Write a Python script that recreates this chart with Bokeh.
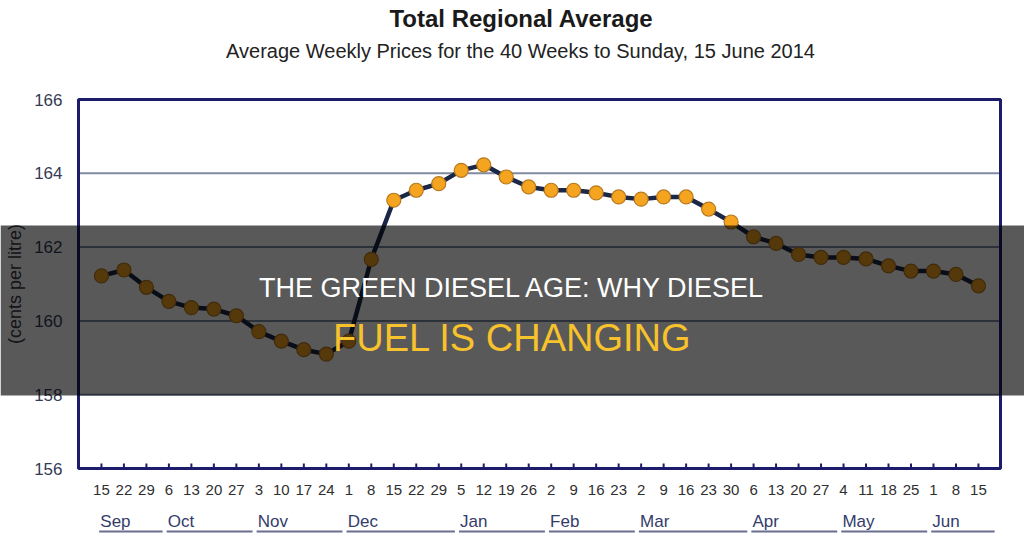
import math
from bokeh.plotting import figure
from bokeh.models import Range1d, ColumnDataSource
from bokeh.core.properties import value
from bokeh.embed import file_html
from bokeh.resources import INLINE

# ---------------- data ----------------
day_labels = ["15", "22", "29", "6", "13", "20", "27", "3", "10", "17", "24",
              "1", "8", "15", "22", "29", "5", "12", "19", "26", "2", "9", "16",
              "23", "2", "9", "16", "23", "30", "6", "13", "20", "27", "4", "11",
              "18", "25", "1", "8", "15"]
prices = [161.22, 161.38, 160.91, 160.53, 160.36, 160.32, 160.14, 159.71, 159.45, 159.22,
          159.10, 159.45, 161.67, 163.27, 163.54, 163.72, 164.08, 164.23, 163.90, 163.63,
          163.54, 163.54, 163.47, 163.36, 163.30, 163.36, 163.36, 163.03, 162.68, 162.28,
          162.10, 161.80, 161.72, 161.72, 161.68, 161.49, 161.35, 161.35, 161.26, 160.95]
months = ["Sep", "Oct", "Nov", "Dec", "Jan", "Feb", "Mar", "Apr", "May", "Jun"]
month_weeks = [3, 4, 4, 5, 4, 4, 5, 4, 4, 3]
y_ticks = [156, 158, 160, 162, 164, 166]
grid_ticks = [158, 160, 162, 164]

title_text = "Total Regional Average"
subtitle_text = "Average Weekly Prices for the 40 Weeks to Sunday, 15 June 2014"
y_label = "(cents per litre)"
overlay_line1 = "THE GREEN DIESEL AGE: WHY DIESEL"
overlay_line2 = "FUEL IS CHANGING"

# ---------------- layout ----------------
W, H = 1024, 540
FONT = value("Liberation Sans")
NAVY = "#1c1c6a"
Y0, Y1 = y_ticks[0], y_ticks[-1]
XL, XR = -1.02, len(prices) - 1 + 0.98          # plot-area extent in data units
AREA_L, AREA_R, AREA_T, AREA_B = 78, 1000, 99, 468  # plot-area box in pixels
PX_X = (AREA_R - AREA_L) / (XR - XL)
PX_Y = (AREA_B - AREA_T) / (Y1 - Y0)


def cx(px):  # canvas x pixel -> data x
    return XL - (AREA_L - px) / PX_X


def cy(py):  # canvas y pixel -> data y
    return Y1 + (AREA_T - py) / PX_Y


x = list(range(len(prices)))

p = figure(width=W, height=H,
           x_range=Range1d(cx(0), cx(W)), y_range=Range1d(cy(H), cy(0)),
           x_axis_type=None, y_axis_type=None,
           output_backend="svg", toolbar_location=None,
           min_border=0)
p.outline_line_color = None
p.background_fill_color = "white"
p.border_fill_color = "white"

# grid lines
p.segment(x0=[XL] * len(grid_ticks), x1=[XR] * len(grid_ticks), y0=grid_ticks, y1=grid_ticks,
          line_color="#7f8aa0", line_width=2)
# plot frame
p.quad(left=[XL], right=[XR], bottom=[Y0], top=[Y1], fill_color=None,
       line_color=NAVY, line_width=3)
# x tick marks (inside)
p.segment(x0=x, x1=x, y0=[Y0] * len(x), y1=[Y0 + 5 / PX_Y] * len(x),
          line_color=NAVY, line_width=2)

# data
p.line(x, prices, line_color="#1b2747", line_width=4.5)
p.scatter(x, prices, size=14, fill_color="#f4a41e", line_color="#b7791f", line_width=1.2)

# y tick labels
p.text(x=[XL - 16 / PX_X] * len(y_ticks), y=y_ticks, text=[str(t) for t in y_ticks],
       text_align="right", text_baseline="middle", text_font=FONT,
       text_font_size="17px", text_color="#353a55")
# y axis title
p.text(x=[cx(14)], y=[(Y0 + Y1) / 2], text=[y_label], angle=math.pi / 2,
       text_align="center", text_baseline="middle", text_font=FONT,
       text_font_size="18px", text_color="#3a3a4a")
# day labels
p.text(x=x, y=[Y0 - 21 / PX_Y] * len(x), text=day_labels,
       text_align="center", text_baseline="middle", text_font=FONT,
       text_font_size="15px", text_color="#2f2f2f")

# month labels and underlines
starts, ends = [], []
i = 0
for n in month_weeks:
    starts.append(i)
    ends.append(i + n - 1)
    i += n
msrc = ColumnDataSource(dict(
    name=months,
    lx=[s - 0.05 for s in starts],
    x0=[s - 0.1 for s in starts],
    x1=[e + 0.72 for e in ends],
    ly=[Y0 - 53 / PX_Y] * len(months),
    uy=[Y0 - 63 / PX_Y] * len(months),
))
p.text(x="lx", y="ly", text="name", source=msrc, text_align="left", text_baseline="middle",
       text_font=FONT, text_font_size="17px", text_color="#343c6a")
p.segment(x0="x0", x1="x1", y0="uy", y1="uy", source=msrc, line_color="#6b6f8f", line_width=2)

# titles
p.text(x=[cx(521)], y=[cy(18)], text=[title_text], text_align="center", text_baseline="middle",
       text_font=FONT, text_font_style="bold", text_font_size="24px", text_color="#1a1a1a")
p.text(x=[cx(520)], y=[cy(50)], text=[subtitle_text], text_align="center",
       text_baseline="middle", text_font=FONT, text_font_size="20px", text_color="#222222")

# overlay band across the whole picture
p.quad(left=[cx(0)], right=[cx(W)], top=[cy(225)], bottom=[cy(395)],
       fill_color="black", fill_alpha=0.65, line_color=None)
p.text(x=[cx(512)], y=[cy(287)], text=[overlay_line1], text_align="center",
       text_baseline="middle", text_font=FONT, text_font_size="27px", text_color="white")
p.text(x=[cx(512)], y=[cy(337)], text=[overlay_line2], text_align="center",
       text_baseline="middle", text_font=FONT, text_font_size="38px", text_color="#f7c22b")

open("out.html", "w").write(file_html(p, INLINE))
